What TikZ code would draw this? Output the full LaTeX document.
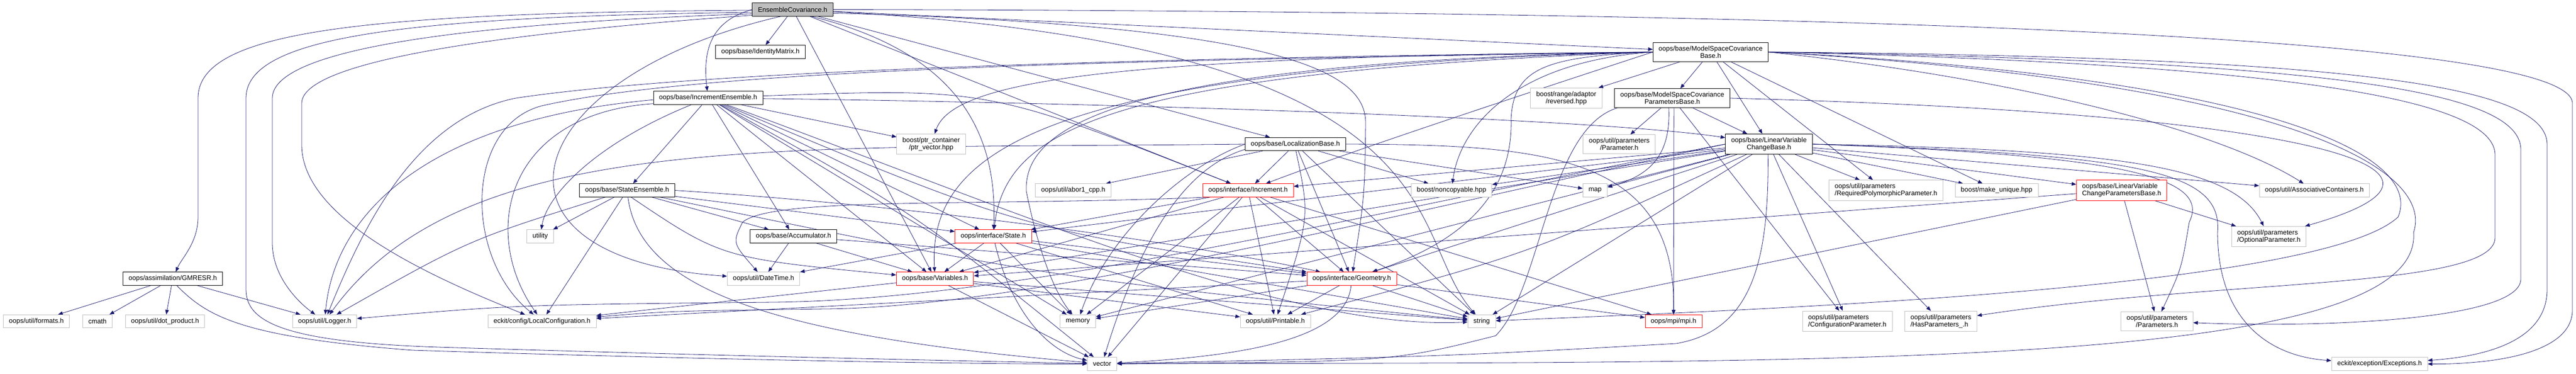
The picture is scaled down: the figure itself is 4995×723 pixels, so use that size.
\documentclass[tikz,border=0pt]{standalone}
\usepackage{fontspec}
\setmainfont{Liberation Sans}
\usetikzlibrary{arrows.meta}
\definecolor{edgeblue}{HTML}{191970}
\definecolor{boxgray}{HTML}{BFBFBF}
\newcommand{\doxfont}{\fontsize{13}{14}\selectfont}
\pgfdeclarelayer{bg}
\pgfsetlayers{bg,main}

\begin{document}
\begin{tikzpicture}[
  x=1pt, y=-1pt,
  hbox/.style={rectangle, draw, line width=0.8pt, fill=white, font=\doxfont,
    inner xsep=11pt, inner ysep=6.5pt, minimum height=25.5pt, align=center},
  hdoc/.style={hbox, draw=black},
  hext/.style={hbox, draw=boxgray},
  htrunc/.style={hbox, draw=red},
  hroot/.style={hbox, draw=black, fill=boxgray},
  dep/.style={edgeblue, line width=0.8pt, -{Triangle[length=9pt,width=7pt]}}
]
  \useasboundingbox (0,0) rectangle (4995,723);

  % the header itself
  \node[hroot] (root) at (1537,18.5) {EnsembleCovariance.h};
  % left part
  \node[hdoc] (gmresr) at (335,539.5) {oops/assimilation/GMRESR.h};
  \node[hext] (formats) at (70.5,622) {oops/util/formats.h};
  \node[hext] (cmath) at (189,622) {cmath};
  \node[hext] (dotprod) at (320,622) {oops/util/dot\_product.h};
  \node[hext] (logger) at (629.5,622) {oops/util/Logger.h};
  \node[hdoc] (identity) at (1474.5,100.3) {oops/base/IdentityMatrix.h};
  \node[hdoc] (incens) at (1373,189.5) {oops/base/IncrementEnsemble.h};
  \node[hdoc] (stateens) at (1216,368.5) {oops/base/StateEnsemble.h};
  \node[hext] (utility) at (1047.5,457.5) {utility};
  \node[hdoc] (accum) at (1538.5,457.5) {oops/base/Accumulator.h};
  \node[hext] (datetime) at (1480.5,539.5) {oops/util/DateTime.h};
  \node[hext] (localconf) at (1051,622) {eckit/config/LocalConfiguration.h};
  % middle part
  \node[hext] (ptrvec) at (1805.5,279) {boost/ptr\_container\\/ptr\_vector.hpp};
  \node[hext] (abor) at (2081,368.5) {oops/util/abor1\_cpp.h};
  \node[htrunc] (increment) at (2420,368.5) {oops/interface/Increment.h};
  \node[htrunc] (state) at (1926,457.5) {oops/interface/State.h};
  \node[htrunc] (variables) at (1813,539.5) {oops/base/Variables.h};
  \node[hext] (memory) at (2090,622) {memory};
  \node[hext] (vector) at (2137,704.3) {vector};
  \node[hext] (printable) at (2473,622) {oops/util/Printable.h};
  \node[hdoc] (locbase) at (2511.7,279) {oops/base/LocalizationBase.h};
  \node[htrunc] (geometry) at (2621,539.5) {oops/interface/Geometry.h};
  \node[hext] (noncopy) at (2814.6,368.5) {boost/noncopyable.hpp};
  \node[hext] (string) at (2873,622) {string};
  % right part
  \node[hdoc] (mscb) at (3317,100.7) {oops/base/ModelSpaceCovariance\\Base.h};
  \node[hext] (reversed) at (3037,190) {boost/range/adaptor\\/reversed.hpp};
  \node[hdoc] (mscpb) at (3242.6,190) {oops/base/ModelSpaceCovariance\\ParametersBase.h};
  \node[hext] (parameter) at (3139.7,279) {oops/util/parameters\\/Parameter.h};
  \node[hext] (map) at (3093,368.5) {map};
  \node[htrunc] (mpi) at (3245,622) {oops/mpi/mpi.h};
  \node[hdoc] (lvcb) at (3430,279) {oops/base/LinearVariable\\ChangeBase.h};
  \node[hext, align=left] (reqpoly) at (3657,368.4) {oops/util/parameters\\/RequiredPolymorphicParameter.h};
  \node[hext] (makeuniq) at (3871.5,368.5) {boost/make\_unique.hpp};
  \node[htrunc, align=left] (lvcpb) at (4114,368.4) {oops/base/LinearVariable\\ChangeParametersBase.h};
  \node[hext, align=left] (confparam) at (3582,621.7) {oops/util/parameters\\/ConfigurationParameter.h};
  \node[hext, align=left] (hasparam) at (3763.4,621.7) {oops/util/parameters\\/HasParameters\_.h};
  \node[hext] (assoc) at (4487.6,368.5) {oops/util/AssociativeContainers.h};
  \node[hext, align=left] (optparam) at (4399.4,457.8) {oops/util/parameters\\/OptionalParameter.h};
  \node[hext] (params) at (4182.4,621.7) {oops/util/parameters\\/Parameters.h};
  \node[hext] (exceptions) at (4614,704.3) {eckit/exception/Exceptions.h};

  \begin{pgfonlayer}{bg}
  % EnsembleCovariance.h
  \draw[dep] (root.181) .. controls (700,25) and (384,60) .. (384,190) -- (384,420) .. controls (384,470) and (352,500) .. (gmresr);
  \draw[dep] (root.184) .. controls (760,32) and (477,75) .. (477,190) -- (477,560) .. controls (477,620) and (540,662) .. (850,672) .. controls (1500,692) and (1950,700) .. (vector);
  \draw[dep] (root.186) .. controls (900,45) and (528,95) .. (528,190) -- (528,470) .. controls (528,540) and (585,590) .. (logger);
  \draw[dep] (root.188) .. controls (1000,62) and (585,115) .. (585,200) -- (585,280) .. controls (585,420) and (820,530) .. (localconf);
  \draw[dep] (root) -- (identity);
  \draw[dep] (root.west) .. controls (1380,40) and (1362,95) .. (incens);
  \draw[dep] (root) -- (locbase);
  \draw[dep] (root) -- (mscb);
  \draw[dep] (root) -- (variables);
  \draw[dep] (root) -- (increment);
  \draw[dep] (root.-20) .. controls (1850,100) and (1935,250) .. (state);
  \draw[dep] (root.-5) .. controls (2500,50) and (2650,140) .. (2648,240) .. controls (2646,380) .. (geometry);
  \draw[dep] (root.-150) .. controls (1000,150) and (900,500) .. (datetime);
  \draw[dep] (root.-3) .. controls (2850,90) and (2720,450) .. (string);
  \draw[dep] (root.east) .. controls (3800,22) and (4988,80) .. (4988,200) -- (4988,600) .. controls (4988,680) and (4850,705) .. (exceptions);

  % GMRESR.h
  \draw[dep] (gmresr) -- (formats);
  \draw[dep] (gmresr) -- (cmath);
  \draw[dep] (gmresr) -- (dotprod);
  \draw[dep] (gmresr) -- (logger);
  \draw[dep] (gmresr.-60) .. controls (400,610) and (460,652) .. (800,678) .. controls (1500,700) and (1950,705) .. (vector);

  % IncrementEnsemble.h
  \draw[dep] (incens) -- (ptrvec);
  \draw[dep] (incens) .. controls (1150,280) and (1060,380) .. (utility);
  \draw[dep] (incens) -- (stateens);
  \draw[dep] (incens) -- (accum);
  \draw[dep] (incens.186) .. controls (980,220) and (930,450) .. (localconf);
  \draw[dep] (incens.182) .. controls (850,230) and (650,400) .. (logger);
  \draw[dep] (incens) -- (memory);
  \draw[dep] (incens) .. controls (2000,420) and (2500,640) .. (string);
  \draw[dep] (incens) .. controls (1777,414) .. (vector);
  \draw[dep] (incens) -- (variables);
  \draw[dep] (incens) .. controls (1975,442) .. (geometry);
  \draw[dep] (incens) .. controls (1915,170) .. (increment);
  \draw[dep] (incens) -- (state);
  \draw[dep] (incens) .. controls (2200,200) and (3100,230) .. (lvcb);

  % StateEnsemble.h
  \draw[dep] (stateens) -- (utility);
  \draw[dep] (stateens) -- (localconf);
  \draw[dep] (stateens) -- (accum);
  \draw[dep] (stateens) .. controls (1240,560) and (1500,650) .. (vector);
  \draw[dep] (stateens) .. controls (909,464) .. (logger);
  \draw[dep] (stateens.-60) .. controls (1400,500) .. (variables);
  \draw[dep] (stateens.east) .. controls (1800,400) and (2300,470) .. (geometry);
  \draw[dep] (stateens) -- (state);
  \draw[dep] (stateens) .. controls (2038,538) .. (string);

  % Accumulator.h
  \draw[dep] (accum) -- (datetime);
  \draw[dep] (accum) -- (variables);
  \draw[dep] (accum) -- (geometry);

  % LocalizationBase.h
  \draw[dep] (locbase) -- (increment);
  \draw[dep] (locbase.-85) .. controls (2540,420) .. (printable);
  \draw[dep] (locbase) -- (geometry);
  \draw[dep] (locbase) -- (string);
  \draw[dep] (locbase) -- (noncopy);
  \draw[dep] (locbase) -- (map);
  \draw[dep] (locbase.east) .. controls (3000,280) and (3250,300) .. (mpi);
  \draw[dep] (locbase) -- (abor);
  \draw[dep] (locbase.west) .. controls (1500,290) and (900,250) .. (logger);
  \draw[dep] (locbase.west) .. controls (2300,320) and (2150,450) .. (memory);
  \draw[dep] (locbase.186) .. controls (2280,330) and (2200,500) .. (vector);

  % ModelSpaceCovarianceBase.h
  \draw[dep] (mscb) -- (reversed);
  \draw[dep] (mscb) -- (mscpb);
  \draw[dep] (mscb) -- (lvcb);
  \draw[dep] (mscb) -- (reqpoly);
  \draw[dep] (mscb) -- (makeuniq);
  \draw[dep] (mscb.west) .. controls (2930,120) and (2830,250) .. (noncopy);
  \draw[dep] (mscb.west) .. controls (3000,110) and (2935,130) .. (2930,230) .. controls (2935,400) and (2800,480) .. (geometry);
  \draw[dep] (mscb.west) .. controls (2200,110) and (1850,150) .. (ptrvec);
  \draw[dep] (mscb.west) .. controls (2000,130) and (1800,300) .. (variables);
  \draw[dep] (mscb.west) .. controls (2150,140) and (1950,250) .. (state);
  \draw[dep] (mscb.west) .. controls (2150,120) and (1985,250) .. (1990,370) .. controls (2010,470) and (2040,560) .. (memory);
  \draw[dep] (mscb.west) .. controls (2900,200) and (2600,300) .. (increment);
  \draw[dep] (mscb.west) .. controls (2400,110) and (1400,130) .. (1000,190) .. controls (800,230) and (700,450) .. (logger);
  \draw[dep] (mscb.west) .. controls (2400,115) and (1400,125) .. (1050,205) .. controls (900,245) and (900,500) .. (localconf);
  \draw[dep] (mscb.east) .. controls (3900,150) and (4300,250) .. (assoc);
  \draw[dep] (mscb.east) .. controls (4400,150) and (4700,300) .. (4650,420) .. controls (4500,560) and (3400,600) .. (string);
  \draw[dep] (mscb.east) .. controls (4450,160) and (4720,330) .. (4680,450) .. controls (4700,720) and (3500,700) .. (vector);
  \draw[dep] (mscb.east) .. controls (4500,125) and (4838,200) .. (4838,300) -- (4838,460) .. controls (4838,560) and (4300,540) .. (hasparam);
  \draw[dep] (mscb.east) .. controls (4550,118) and (4888,180) .. (4888,290) -- (4888,540) .. controls (4888,620) and (4500,635) .. (params);
  \draw[dep] (mscb.east) .. controls (4600,110) and (4939,170) .. (4939,280) -- (4939,560) .. controls (4939,660) and (4820,690) .. (exceptions);

  % ModelSpaceCovarianceParametersBase.h
  \draw[dep] (mscpb) -- (parameter);
  \draw[dep] (mscpb) -- (lvcb);
  \draw[dep] (mscpb.-80) -- (mpi);
  \draw[dep] (mscpb) -- (confparam);
  \draw[dep] (mscpb.-110) .. controls (3240,300) and (3200,340) .. (map);
  \draw[dep] (mscpb.east) .. controls (4500,220) and (4850,330) .. (optparam);
  \draw[dep] (mscpb.190) .. controls (3000,250) and (2990,560) .. (2900,650) .. controls (2700,700) .. (vector);

  % LinearVariableChangeBase.h
  \draw[dep] (lvcb) -- (reqpoly);
  \draw[dep] (lvcb) -- (makeuniq);
  \draw[dep] (lvcb) -- (lvcpb);
  \draw[dep] (lvcb) -- (confparam);
  \draw[dep] (lvcb) -- (hasparam);
  \draw[dep] (lvcb) -- (assoc);
  \draw[dep] (lvcb.east) .. controls (4100,290) and (4330,320) .. (optparam);
  \draw[dep] (lvcb.east) .. controls (4100,300) and (4290,340) .. (4245,430) .. controls (4230,520) .. (params);
  \draw[dep] (lvcb.east) .. controls (4150,300) and (4310,330) .. (4300,450) .. controls (4300,620) and (4400,690) .. (exceptions);
  \draw[dep] (lvcb) -- (map);
  \draw[dep] (lvcb) -- (noncopy);
  \draw[dep] (lvcb) -- (increment);
  \draw[dep] (lvcb) -- (geometry);
  \draw[dep] (lvcb) -- (string);
  \draw[dep] (lvcb) -- (memory);
  \draw[dep] (lvcb) .. controls (2966,492) .. (printable);
  \draw[dep] (lvcb) -- (state);
  \draw[dep] (lvcb) -- (variables);
  \draw[dep] (lvcb.-95) .. controls (3430,500) and (3400,640) .. (3250,665) .. controls (2800,690) .. (vector);
  \draw[dep] (lvcb.west) .. controls (2700,400) and (2000,580) .. (1500,585) .. controls (1000,590) .. (logger);
  \draw[dep] (lvcb.west) .. controls (2700,415) and (2000,595) .. (1600,598) .. controls (1300,602) .. (localconf);

  % LinearVariableChangeParametersBase.h
  \draw[dep] (lvcpb) -- (optparam);
  \draw[dep] (lvcpb) -- (params);
  \draw[dep] (lvcpb) -- (variables);
  \draw[dep] (lvcpb) -- (string);

  % Increment.h
  \draw[dep] (increment) -- (memory);
  \draw[dep] (increment) -- (string);
  \draw[dep] (increment) -- (vector);
  \draw[dep] (increment) -- (geometry);
  \draw[dep] (increment) -- (variables);
  \draw[dep] (increment) -- (state);
  \draw[dep] (increment.-170) .. controls (1900,400) and (1500,380) .. (1440,430) .. controls (1420,470) .. (datetime);
  \draw[dep] (increment) -- (printable);
  \draw[dep] (increment) -- (mpi);

  % State.h
  \draw[dep] (state) -- (memory);
  \draw[dep] (state) -- (string);
  \draw[dep] (state) .. controls (1960,600) and (2030,680) .. (vector);
  \draw[dep] (state) -- (geometry);
  \draw[dep] (state) -- (variables);
  \draw[dep] (state) -- (datetime);
  \draw[dep] (state) -- (printable);

  % Geometry.h
  \draw[dep] (geometry) -- (memory);
  \draw[dep] (geometry) -- (string);
  \draw[dep] (geometry) .. controls (2610,660) and (2400,690) .. (vector);
  \draw[dep] (geometry) -- (mpi);
  \draw[dep] (geometry) -- (printable);
  \draw[dep] (geometry) -- (localconf);

  % Variables.h
  \draw[dep] (variables) -- (string);
  \draw[dep] (variables) -- (vector);
  \draw[dep] (variables) -- (printable);
  \draw[dep] (variables) -- (localconf);
  \end{pgfonlayer}
\end{tikzpicture}
\end{document}
